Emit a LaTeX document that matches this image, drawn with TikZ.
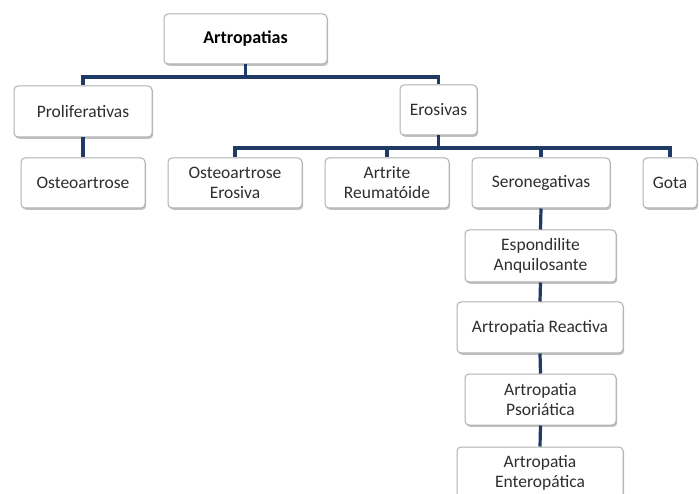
\documentclass[tikz,border=0pt]{standalone}
\usepackage{fontspec}
\setmainfont{Carlito}
\usetikzlibrary{shadows}
\definecolor{navy}{HTML}{1F3A64}
\definecolor{boxline}{HTML}{B0B0B0}
\definecolor{txt}{HTML}{2E2E2E}
\tikzset{
  box/.style={draw=boxline, line width=1pt, fill=white, rounded corners=4pt,
    align=center, inner sep=0pt, text=txt,
    font=\fontsize{17.5}{20}\selectfont,
    drop shadow={shadow xshift=1.2pt, shadow yshift=-1.8pt, opacity=0.4, fill=black!60}},
  conn/.style={draw=navy, line width=3.2pt}
}
\begin{document}
\begin{tikzpicture}[x=1pt,y=-1pt]
\useasboundingbox (0,0) rectangle (699,494);
\fill[white] (0,0) rectangle (699,494);
\coordinate (b1) at (246,77);
\coordinate (b2) at (439,148);
\node[box, minimum width=163pt, minimum height=50pt, text=black, font=\fontsize{18}{20}\selectfont\bfseries] (art) at (245.5,39) {Artropatias};
\node[box, minimum width=138pt, minimum height=51pt] (pro) at (83,111.5) {Proliferativas};
\node[box, minimum width=124pt, minimum height=50pt] (ost) at (83,183) {Osteoartrose};
\node[box, minimum width=77pt, minimum height=50pt] (ero) at (438.5,110) {Erosivas};
\node[box, minimum width=134pt, minimum height=50pt] (oer) at (235,183) {Osteoartrose\\Erosiva};
\node[box, minimum width=124pt, minimum height=50pt] (arr) at (387,183) {Artrite\\Reumatóide};
\node[box, minimum width=138pt, minimum height=50pt] (ser) at (541,183) {Seronegativas};
\node[box, minimum width=54pt, minimum height=50pt] (got) at (670,183) {Gota};
\node[box, minimum width=151pt, minimum height=52pt] (esp) at (540.5,256) {Espondilite\\Anquilosante};
\node[box, minimum width=166pt, minimum height=51pt] (rea) at (540,327.5) {Artropatia Reactiva};
\node[box, minimum width=151pt, minimum height=51pt] (pso) at (540.5,399.5) {Artropatia\\Psoriática};
\node[box, minimum width=166pt, minimum height=51pt] (ent) at (540,472.5) {Artropatia\\Enteropática};
\draw[conn] (art.south) -- (art.south|-b1) -| (pro.north);
\draw[conn] (art.south|-b1) -| (ero.north);
\draw[conn] (pro.south) -- (ost.north);
\draw[conn] (ero.south) -- (ero.south|-b2) -| (oer.north);
\draw[conn] (ero.south|-b2) -| (arr.north);
\draw[conn] (ero.south|-b2) -| (ser.north);
\draw[conn] (ero.south|-b2) -| (got.north);
\draw[conn] (ser.south) -- (esp.north);
\draw[conn] (esp.south) -- (rea.north);
\draw[conn] (rea.south) -- (pso.north);
\draw[conn] (pso.south) -- (ent.north);
\end{tikzpicture}
\end{document}
